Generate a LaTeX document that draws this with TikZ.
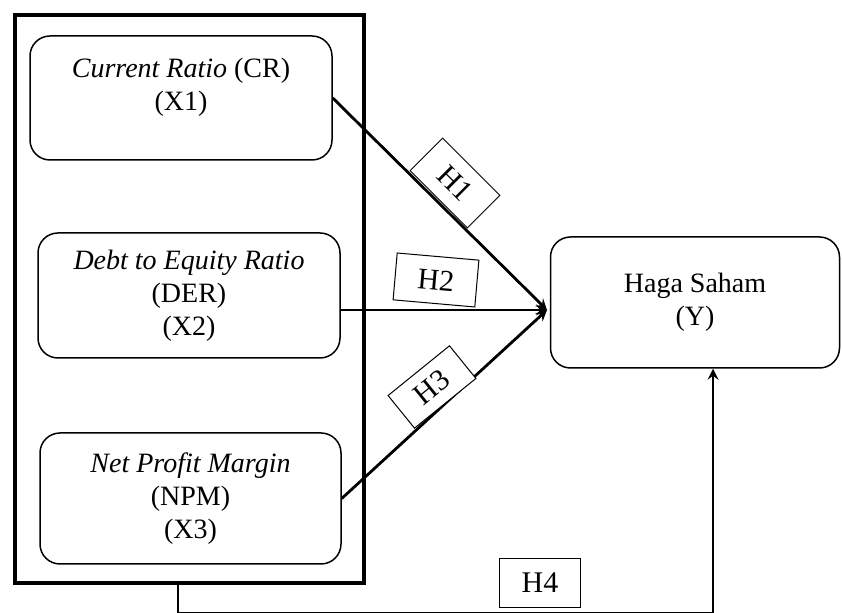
\documentclass[tikz,border=0pt]{standalone}
\usepackage{fontspec}
\setmainfont{Liberation Serif}
\tikzset{>=stealth}

\begin{document}
\begin{tikzpicture}[x=0.5pt, y=-0.5pt, font=\fontsize{14}{16.5}\selectfont,
    var/.style={draw, rounded corners=10pt, line width=0.75pt, align=center, minimum width=151pt, minimum height=62pt},
    hyp/.style={draw, line width=0.5pt, minimum width=40.5pt, minimum height=23pt, inner sep=0pt, font=\fontsize{15}{18}\selectfont},
    link/.style={->, line width=1.4pt}]
    \useasboundingbox (0,0) rectangle (842,613);
    \node[draw, line width=2pt, minimum width=174.5pt, minimum height=284pt] (frame) at (189.5,299) {};
    \node[var] (X1) at (181,98) {\textit{Current Ratio} (CR)\\(X1)\\[-3pt]};
    \node[var, minimum height=62.5pt] (X2) at (189,295.5) {\textit{Debt to Equity Ratio}\\(DER)\\(X2)};
    \node[var, minimum width=150.5pt, minimum height=65.5pt] (X3) at (190.5,498.5) {\textit{Net Profit Margin}\\(NPM)\\(X3)};
    \node[var, minimum width=144.5pt, minimum height=65.5pt] (Y) at (695,302.5) {Haga Saham\\(Y)};
    \coordinate (tip) at (547,310);
    \draw[link] (X1.east) -- (tip);
    \draw[link] (X2.east |- tip) -- (tip);
    \draw[link] (X3.east) -- (tip);
    \draw[link] ([xshift=-5.75pt]frame.south) -- ++(0,-14pt) -| ([xshift=9pt]Y.south);
    \node[hyp, fill=white, rotate=-45] (h1) at (455,183) {H1};
    \node[hyp, fill=white, rotate=-5, minimum width=41pt, minimum height=23.5pt] (h2) at (436,280) {H2};
    \node[hyp, fill=white, rotate=39, minimum width=39.5pt, minimum height=21pt] (h3) at (432,387) {H3};
    \node[hyp, minimum height=24.5pt] (h4) at (540,583) {H4};
\end{tikzpicture}
\end{document}
